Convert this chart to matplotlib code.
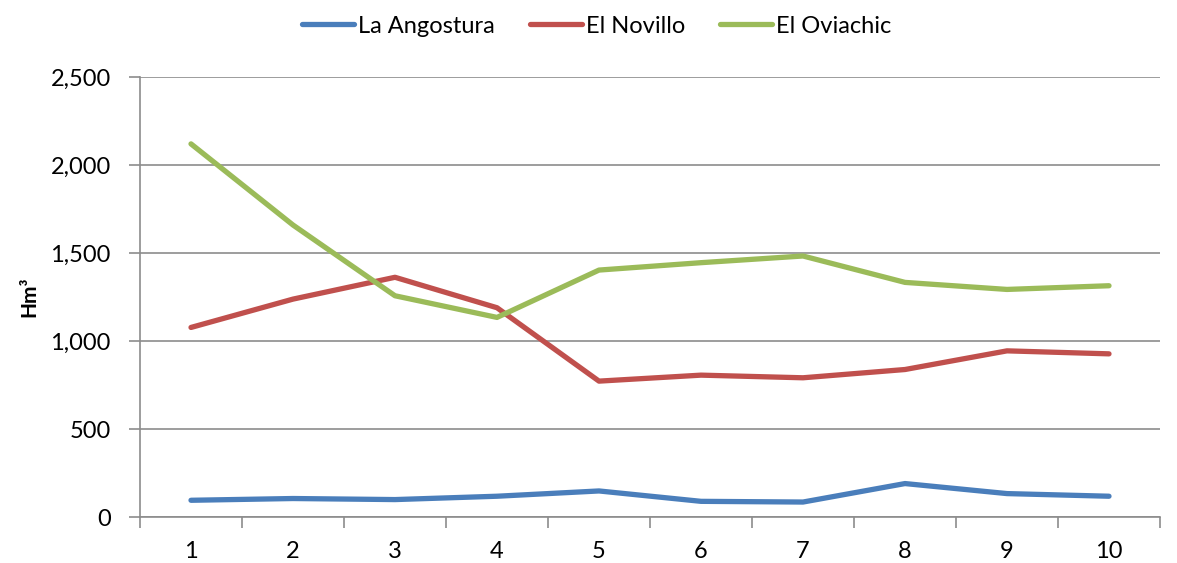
import matplotlib
matplotlib.use("Agg")
import matplotlib.pyplot as plt
from matplotlib.ticker import FuncFormatter, FixedLocator

plt.rcParams['font.family'] = ['Lato', 'DejaVu Sans']

categories = [1, 2, 3, 4, 5, 6, 7, 8, 9, 10]
la_angostura = [95, 105, 99, 118, 148, 89, 85, 190, 133, 118]
el_novillo = [1077, 1238, 1362, 1189, 772, 806, 791, 838, 944, 927]
el_oviachic = [2120, 1659, 1257, 1134, 1403, 1445, 1483, 1333, 1293, 1314]

series_names = ["La Angostura", "El Novillo", "El Oviachic"]
series_colors = ["#4A7EBB", "#C0504D", "#9BBB59"]
y_ticks = [0, 500, 1000, 1500, 2000, 2500]

fig = plt.figure(figsize=(11.77, 5.63), dpi=100)
ax = fig.add_axes([140 / 1177, 46 / 563, 1020 / 1177, 440 / 563])

for vals, name, col in zip([la_angostura, el_novillo, el_oviachic], series_names, series_colors):
    ax.plot(categories, vals, color=col, lw=3.8, solid_capstyle='round',
            solid_joinstyle='round', label=name)

ax.set_xlim(0.5, 10.5)
ax.set_ylim(0, 2500)

grid_col = "#8C8C8C"
ax.yaxis.set_major_locator(FixedLocator(y_ticks))
ax.yaxis.set_major_formatter(FuncFormatter(lambda v, p: f"{int(v):,}"))
ax.grid(axis='y', color=grid_col, lw=1.2)
ax.set_axisbelow(True)

# category labels at centers, tick marks at category boundaries
ax.set_xticks(categories)
ax.set_xticklabels([str(c) for c in categories])
ax.set_xticks([c + 0.5 for c in range(0, 11)], minor=True)
ax.tick_params(axis='x', which='major', length=0, pad=17, labelsize=17)
ax.tick_params(axis='x', which='minor', length=8, width=1.2, color=grid_col, direction='out')
ax.tick_params(axis='y', which='major', length=8, width=1.2, color=grid_col,
               direction='out', pad=13, labelsize=17)

for s in ['top', 'right']:
    ax.spines[s].set_visible(False)
for s in ['left', 'bottom']:
    ax.spines[s].set_color(grid_col)
    ax.spines[s].set_linewidth(1.2)

ax.set_ylabel("Hm³", fontsize=15, fontweight='bold', labelpad=8)

fig.legend(loc='upper center', bbox_to_anchor=(0.507, 1.01), ncol=3, frameon=False,
           fontsize=17, handlelength=2.2, handletextpad=0.15, columnspacing=1.5)

fig.savefig("out.png", dpi=100)
